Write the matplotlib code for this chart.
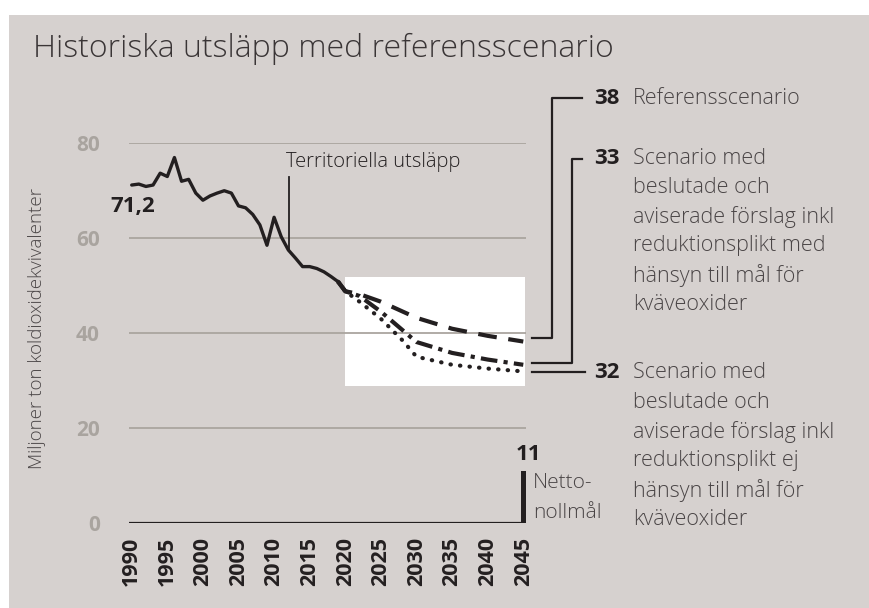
import matplotlib
matplotlib.use("Agg")
import matplotlib.pyplot as plt
from matplotlib.patches import Rectangle
from matplotlib.lines import Line2D

plt.rcParams['font.family'] = ['Open Sans', 'DejaVu Sans']

# historiska utsläpp (Mt CO2-ekv)
hist_years = list(range(1990, 2020))
hist_values = [71.2, 71.4, 70.9, 71.2, 73.7, 73.0, 77.0, 72.0, 72.4, 69.5,
               68.0, 68.9, 69.5, 70.0, 69.5, 66.8, 66.4, 65.0, 62.8, 58.5,
               64.4, 60.3, 57.5, 55.8, 54.0, 54.0, 53.6, 52.9, 51.9, 50.8]

# scenarier
ref_years = [2019, 2020, 2022, 2025, 2030, 2035, 2040, 2045]
ref_values = [50.8, 48.8, 48.2, 46.6, 43.2, 40.9, 39.4, 38.2]
med_years = [2019, 2020, 2022, 2025, 2030, 2035, 2040, 2045]
med_values = [50.8, 48.8, 47.8, 44.5, 38.1, 35.8, 34.4, 33.3]
ej_years = [2019, 2020, 2022, 2025, 2028, 2030, 2035, 2040, 2045]
ej_values = [50.8, 48.8, 46.6, 43.0, 38.5, 35.0, 33.3, 32.5, 31.9]

netto_year = 2045
netto_value = 11

xticks = list(range(1990, 2046, 5))
yticks = [0, 20, 40, 60, 80]

BG = '#d6d1cf'
DARK = '#231f20'
TXT = '#4a4546'
GRID = '#aaa59f'

W, H = 870, 608


def px(x, y):
    return x / W, 1 - y / H


fig = plt.figure(figsize=(8.7, 6.08), dpi=100)
fig.patch.set_facecolor('white')
fig.add_artist(Rectangle(px(9, 608), (W - 9) / W, (608 - 15) / H,
                         transform=fig.transFigure, facecolor=BG,
                         edgecolor='none', zorder=-10))

ax = fig.add_axes([129 / W, 1 - 522.7 / H, (525.7 - 129) / W, (522.7 - 143.3) / H])
ax.set_facecolor('none')
ax.set_xlim(1989.62, 2045.34)
ax.set_ylim(0, 80)
for s in ax.spines.values():
    s.set_visible(False)

ax.add_patch(Rectangle((2020, 28.8), 25.2, 23.0, facecolor='white',
                       edgecolor='none', zorder=1))
for v in yticks[1:]:
    ax.axhline(v, color=GRID, lw=1.3, zorder=2)
ax.axhline(0, color=DARK, lw=1.6, zorder=3)

ax.plot(hist_years, hist_values, color=DARK, lw=2.4, zorder=4,
        solid_joinstyle='round', solid_capstyle='round')
ax.plot(ref_years, ref_values, color=DARK, lw=3.0, dashes=(4.5, 2.8), zorder=4)
ax.plot(med_years, med_values, color=DARK, lw=3.0, dashes=(4.0, 1.5, 1.0, 1.5), zorder=4)
ax.plot(ej_years, ej_values, color=DARK, lw=3.0, dashes=(0.1, 2.2),
        dash_capstyle='round', zorder=4)
ax.bar([netto_year], [netto_value], width=0.75, color=DARK, zorder=4)

ax.set_yticks(yticks)
ax.set_yticklabels([str(v) for v in yticks], color='#a9a49f',
                   fontsize=15, fontweight='bold')
ax.set_xticks(xticks)
ax.set_xticklabels([str(v) for v in xticks], rotation=90, color=DARK,
                   fontsize=15.5, fontweight='bold', va='top')
ax.tick_params(axis='y', length=0, pad=21)
ax.tick_params(axis='x', length=0, pad=10)

# texter
fig.text(*px(33, 49), 'Historiska utsläpp med referensscenario', fontsize=23,
         fontweight='light', color='#3a3536', va='center', ha='left')
fig.text(*px(37, 329), 'Miljoner ton koldioxidekvivalenter', fontsize=13.5,
         fontweight='light', color=TXT, rotation=90, va='center', ha='center')
fig.text(*px(110, 206), '71,2', fontsize=16, fontweight='bold', color=DARK,
         va='center', ha='left')
fig.text(*px(286, 162), 'Territoriella utsläpp', fontsize=14.5,
         fontweight='light', color=DARK, va='center', ha='left')
fig.add_artist(Line2D([px(289.3, 0)[0]] * 2, [px(0, 176.7)[1], px(0, 250)[1]],
                      transform=fig.transFigure, color=DARK, lw=1.3))
fig.text(*px(528, 455), '11', fontsize=16, fontweight='bold', color=DARK,
         va='center', ha='center')
fig.text(*px(533, 483), 'Netto-', fontsize=15, fontweight='light', color=TXT,
         va='center', ha='left')
fig.text(*px(533, 513), 'nollmål', fontsize=15, fontweight='light', color=TXT,
         va='center', ha='left')


def connector(points):
    xs = [px(x, y)[0] for x, y in points]
    ys = [px(x, y)[1] for x, y in points]
    fig.add_artist(Line2D(xs, ys, transform=fig.transFigure, color=DARK, lw=1.6))


connector([(531.7, 338.3), (551.7, 338.3), (551.7, 98.3), (581.7, 98.3)])
connector([(531.7, 363.3), (571.7, 363.3), (571.7, 159), (581.7, 159)])
connector([(531.7, 371.7), (585, 371.7)])

labels = [
    ('38', 98.3, ['Referensscenario']),
    ('33', 158, ['Scenario med', 'beslutade och', 'aviserade förslag inkl',
                 'reduktionsplikt med', 'hänsyn till mål för', 'kväveoxider']),
    ('32', 373, ['Scenario med', 'beslutade och', 'aviserade förslag inkl',
                 'reduktionsplikt ej', 'hänsyn till mål för', 'kväveoxider']),
]
for num, y0, lines in labels:
    fig.text(*px(594, y0), num, fontsize=16, fontweight='bold', color=DARK,
             va='center', ha='left')
    for i, line in enumerate(lines):
        fig.text(*px(633, y0 + i * 29.3), line, fontsize=15.5,
                 fontweight='light', color=TXT, va='center', ha='left')

fig.savefig('out.png', dpi=100, facecolor=fig.get_facecolor())
